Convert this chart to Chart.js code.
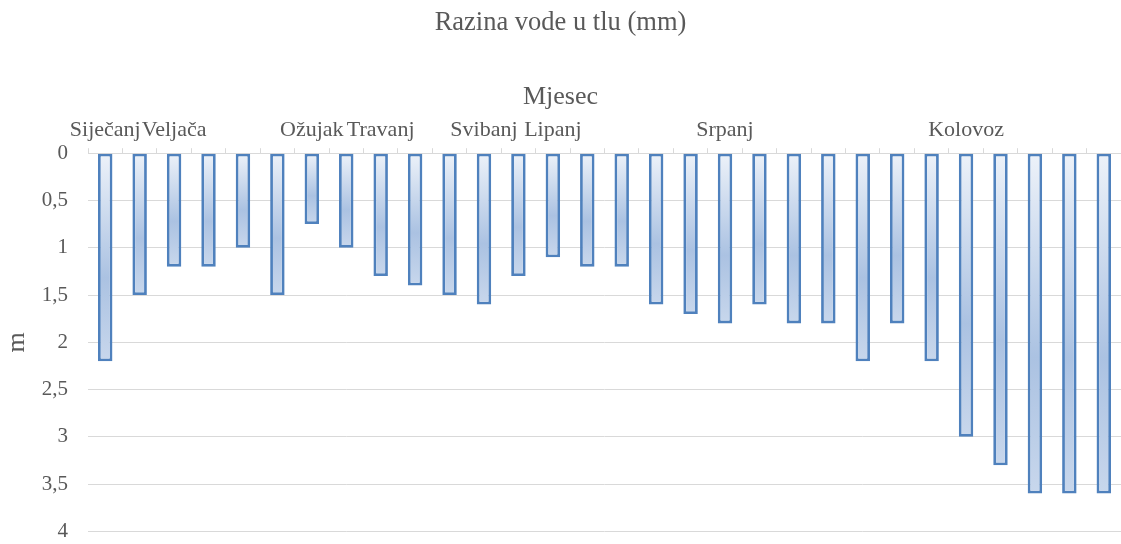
<!DOCTYPE html>
<html>
<head>
<meta charset="utf-8">
<title>Razina vode u tlu (mm)</title>
<script src="https://cdn.jsdelivr.net/npm/chart.js@4"></script>
<style>
    html, body { margin: 0; padding: 0; background: #ffffff; }
    #wrap { width: 1121px; height: 544px; position: relative; }
</style>
</head>
<body>
<div id="wrap"><canvas id="chart"></canvas></div>
<script>
// Chart data
const monthLabels = ['Siječanj', '', 'Veljača', '', '', '', 'Ožujak', '', 'Travanj', '', '',
    'Svibanj', '', 'Lipanj', '', '', '', '', 'Srpanj', '', '', '', '', '', '',
    'Kolovoz', '', '', '', ''];
const waterLevel = [2.2, 1.5, 1.2, 1.2, 1.0, 1.5, 0.75, 1.0, 1.3, 1.4, 1.5, 1.6, 1.3, 1.1, 1.2,
    1.2, 1.6, 1.7, 1.8, 1.6, 1.8, 1.8, 2.2, 1.8, 2.2, 3.0, 3.3, 3.6, 3.6, 3.6];
const yTicks = [0, 0.5, 1, 1.5, 2, 2.5, 3, 3.5, 4];

const textColor = '#595959';
const gridColor = '#d9d9d9';
const fontFamily = '"Liberation Serif", "Times New Roman", serif';

// Vertical gradient for each bar, from the axis down to the bar end
function barFill(context) {
    const chart = context.chart;
    const yScale = chart.scales.y;
    if (!chart.chartArea || !yScale) {
        return '#b8cce4';
    }
    const value = context.raw || 0;
    const y0 = yScale.getPixelForValue(0);
    const y1 = yScale.getPixelForValue(value);
    const gradient = chart.ctx.createLinearGradient(0, y0, 0, y1);
    gradient.addColorStop(0, '#edf2f9');
    gradient.addColorStop(0.6, '#abc2e2');
    gradient.addColorStop(1, '#c8d7ec');
    return gradient;
}

const ctx = document.getElementById('chart').getContext('2d');

new Chart(ctx, {
    type: 'bar',
    data: {
        labels: monthLabels,
        datasets: [{
            label: 'Razina vode',
            data: waterLevel,
            backgroundColor: barFill,
            borderColor: '#4f81bd',
            borderWidth: 2.8,
            borderSkipped: false,
            barPercentage: 0.42,
            categoryPercentage: 1.0
        }]
    },
    options: {
        responsive: true,
        maintainAspectRatio: false,
        animation: false,
        layout: {
            padding: { left: 0, right: 0, top: 0, bottom: 0 }
        },
        plugins: {
            legend: { display: false },
            tooltip: { enabled: false },
            title: {
                display: true,
                text: 'Razina vode u tlu (mm)',
                color: textColor,
                font: { family: fontFamily, size: 26.5, weight: 'normal' },
                padding: { top: 7, bottom: 45 }
            },
            subtitle: {
                display: true,
                text: 'Mjesec',
                color: textColor,
                font: { family: fontFamily, size: 26, weight: 'normal', lineHeight: 1.0 },
                padding: { top: 0, bottom: 2 }
            }
        },
        scales: {
            x: {
                position: 'top',
                offset: true,
                grid: {
                    offset: true,
                    drawOnChartArea: false,
                    drawTicks: true,
                    tickLength: 5,
                    color: gridColor
                },
                border: { display: true, color: gridColor },
                ticks: {
                    autoSkip: false,
                    maxRotation: 0,
                    minRotation: 0,
                    padding: 5,
                    color: textColor,
                    font: { family: fontFamily, size: 22 }
                }
            },
            y: {
                reverse: true,
                min: 0,
                max: 4,
                afterFit: function(scale) {
                    scale.width = 88;
                },
                afterBuildTicks: function(scale) {
                    scale.ticks = yTicks.map(v => ({ value: v }));
                },
                title: {
                    display: true,
                    text: 'm',
                    color: textColor,
                    font: { family: fontFamily, size: 26 },
                    padding: { top: 2, bottom: 0 }
                },
                grid: {
                    color: gridColor,
                    drawTicks: true,
                    tickLength: 20,
                    tickColor: 'rgba(0, 0, 0, 0)'
                },
                border: { display: false },
                ticks: {
                    padding: 0,
                    color: textColor,
                    font: { family: fontFamily, size: 21 },
                    callback: function(value) {
                        return value.toString().replace('.', ',');
                    }
                }
            }
        }
    }
});
</script>
</body>
</html>
